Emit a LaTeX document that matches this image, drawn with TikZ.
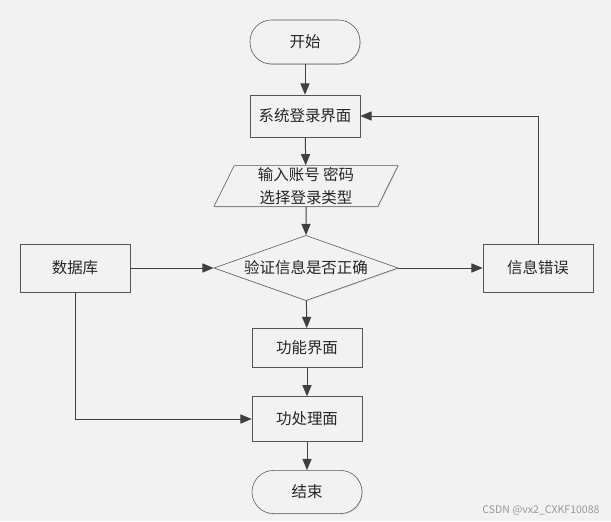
\documentclass[tikz,border=0pt]{standalone}
\usepackage{fontspec}
\setmainfont{Noto Sans CJK SC}
\usepackage{tikz}
\usetikzlibrary{shapes,arrows.meta,positioning,calc,shadows}
\definecolor{bgc}{RGB}{242,242,242}
\definecolor{linec}{RGB}{64,64,64}
\definecolor{boxc}{RGB}{85,85,85}
\tikzset{
  base/.style={draw=boxc, fill=bgc, font=\fontsize{11}{15}\selectfont, text=black!85,
    drop shadow={opacity=0.25, shadow xshift=0.6pt, shadow yshift=-0.6pt}},
  term/.style={base, rectangle, rounded corners=0.54cm, minimum width=2.75cm, minimum height=1.1cm},
  proc/.style={base, rectangle, minimum width=2.75cm, minimum height=1.05cm},
  iobox/.style={base, trapezium, trapezium left angle=63, trapezium right angle=117,
    trapezium stretches body=true, minimum width=4.6cm, minimum height=1.02cm, inner sep=1pt, align=center},
  choice/.style={base, diamond, aspect=2.83, minimum width=4.6cm, minimum height=1.63cm, inner sep=0pt},
  line/.style={draw=linec, line width=0.7pt, -{Triangle[length=8pt,width=6.5pt]}}
}
\begin{document}
\begin{tikzpicture}[x=0.025cm,y=-0.025cm]
  \fill[bgc] (0,0) rectangle (611,521);
  \useasboundingbox (0,0) rectangle (611,521);

  % main column
  \node[term] (start) at (305,42) {开始};
  \node[proc] (login) at (305,116) {系统登录界面};
  \node[iobox] (input) at (306,186) {输入账号 密码\\[1pt]选择登录类型};
  \node[choice] (check) at (306,268) {验证信息是否正确};
  \node[proc, minimum height=0.98cm] (func) at (307,348) {功能界面};
  \node[proc, minimum height=1.12cm] (work) at (307,419) {功处理面};
  \node[term, minimum height=1.08cm] (stop) at (307,492) {结束};

  % side boxes
  \node[proc, minimum height=1.2cm] (db) at (75,268) {数据库};
  \node[proc, minimum height=1.2cm] (err) at (538,268) {信息错误};

  \node[text=black!40, font=\fontsize{7.5}{9}\selectfont] (mark) at (541,510) {CSDN @vx2\_CXKF10088};

  % connectors
  \draw[line] (start) -- (login);
  \draw[line] (login) -- (input);
  \draw[line] (input) -- (check);
  \draw[line] (db) -- (check);
  \draw[line] (check) -- (err);
  \draw[line] (check) -- (func);
  \draw[line] (func) -- (work);
  \draw[line] (work) -- (stop);
  \draw[line] (db.south) |- (work.west);
  \draw[line] (err.north) |- (login.east);
\end{tikzpicture}
\end{document}
